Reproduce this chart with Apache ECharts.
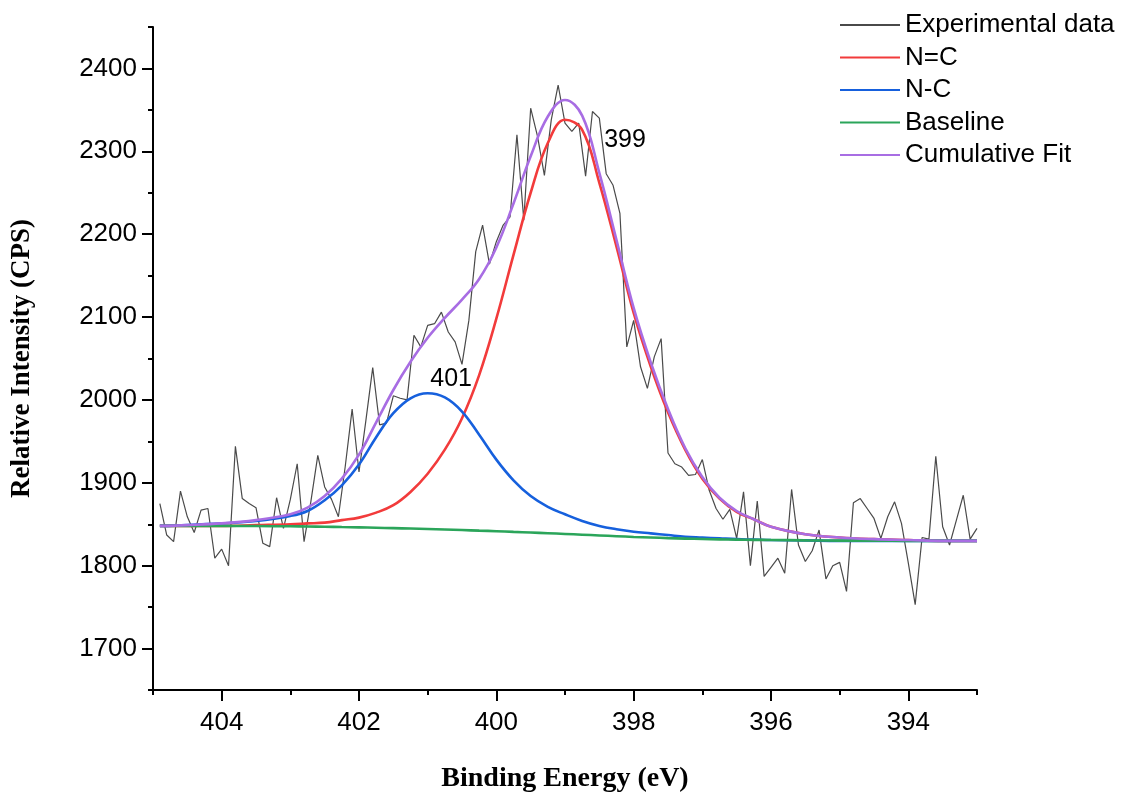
<!DOCTYPE html>
<html>
<head>
<meta charset="utf-8">
<script src="https://cdn.jsdelivr.net/npm/echarts@6/dist/echarts.min.js"></script>
<style>
html,body{margin:0;padding:0;background:#fff;}
#chart{width:1121px;height:793px;}
</style>
</head>
<body>
<div id="chart"></div>
<script>
// ---- Data ----
const expEnergy = [404.9,404.8,404.7,404.6,404.5,404.4,404.3,404.2,404.1,404.0,
403.9,403.8,403.7,403.6,403.5,403.4,403.3,403.2,403.1,403.0,
402.9,402.8,402.7,402.6,402.5,402.4,402.3,402.2,402.1,402.0,
401.9,401.8,401.7,401.6,401.5,401.4,401.3,401.2,401.1,401.0,
400.9,400.8,400.7,400.6,400.5,400.4,400.3,400.2,400.1,400.0,
399.9,399.8,399.7,399.6,399.5,399.4,399.3,399.2,399.1,399.0,
398.9,398.8,398.7,398.6,398.5,398.4,398.3,398.2,398.1,398.0,
397.9,397.8,397.7,397.6,397.5,397.4,397.3,397.2,397.1,397.0,
396.9,396.8,396.7,396.6,396.5,396.4,396.3,396.2,396.1,396.0,
395.9,395.8,395.7,395.6,395.5,395.4,395.3,395.2,395.1,395.0,
394.9,394.8,394.7,394.6,394.5,394.4,394.3,394.2,394.1,394.0,
393.9,393.8,393.7,393.6,393.5,393.4,393.3,393.2,393.1,393.0];
const expIntensity = [1875,1837,1829,1890,1859,1840,1867,1869,1809,1820,
1800,1944,1881,1875,1870,1827,1823,1882,1845,1880,
1923,1829,1878,1933,1895,1880,1859,1920,1989,1913,
1975,2039,1970,1972,2005,2002,2000,2078,2064,2090,
2092,2106,2082,2070,2043,2096,2179,2211,2164,2191,
2211,2221,2320,2217,2352,2318,2271,2338,2380,2334,
2324,2334,2270,2348,2340,2273,2259,2225,2064,2096,
2040,2014,2052,2074,1936,1923,1919,1909,1910,1928,
1891,1869,1856,1868,1833,1889,1800,1878,1787,1798,
1809,1791,1892,1825,1805,1818,1843,1784,1800,1804,
1769,1876,1881,1869,1857,1833,1859,1877,1851,1803,
1753,1834,1832,1932,1847,1825,1855,1885,1832,1845];

const fitEnergy = [404.9,404.5,404,403.5,403,402.75,402.5,402.25,402,401.75,401.5,401.25,401,400.75,400.5,400.25,400,399.75,399.5,399.25,399,398.75,398.5,398.25,398,397.75,397.5,397.25,397,396.75,396.5,396.25,396,395.5,395,394.5,394,393.5,393];
const fitNeqC = [1848,1848,1848,1849,1850,1851,1852,1855,1858,1864,1873,1889,1911,1940,1978,2030,2098,2175,2250,2310,2338,2326,2262,2185,2105,2040,1985,1940,1905,1881,1865,1856,1847,1838,1834,1832,1831,1830,1830];
const fitNC = [1848,1849,1851,1854,1860,1866,1879,1897,1922,1955,1984,2002,2008,2003,1986,1958,1928,1903,1884,1871,1862,1854,1848,1844,1841,1839,1837,1835,1834,1833,1832,1831.5,1831,1830.5,1830,1830,1830,1830,1830];
const fitBaseline = [1848,1848,1848,1847.8,1847.5,1847.3,1847,1846.6,1846.2,1845.8,1845.3,1844.8,1844.2,1843.6,1843,1842.3,1841.6,1840.8,1840,1839.2,1838.3,1837.4,1836.5,1835.6,1834.7,1834,1833.3,1832.7,1832.2,1831.8,1831.5,1831.2,1831,1830.6,1830.3,1830.1,1830,1830,1830];
const fitCumulative = [1848,1849,1851,1855,1862,1870,1884,1905,1934,1973,2012,2046,2075,2099,2121,2146,2184,2237,2294,2342,2362,2343,2274,2193,2111,2045,1989,1942,1907,1882,1866,1856,1847,1838,1834,1832,1831,1830,1830];

const seriesNames = ['Experimental data','N=C','N-C','Baseline','Cumulative Fit'];
const xMajorTicks = [394,396,398,400,402,404];
const xMinorTicks = [393,395,397,399,401,403,405];
const yMajorTicks = [1700,1800,1900,2000,2100,2200,2300,2400];
const yMinorTicks = [1650,1750,1850,1950,2050,2150,2250,2350,2450];
const peakLabels = [{text:'399', energy:399.0, value:2338}, {text:'401', energy:400.95, value:2008}];

function pairs(xs, ys){ return xs.map((x,i)=>[x, ys[i]]); }

const chart = echarts.init(document.getElementById('chart'), null, {renderer:'canvas'});
const sansFont = 'Liberation Sans, Arial, sans-serif';
const serifFont = 'Liberation Serif, Times New Roman, serif';

const fitLine = (name, ys, color, extra) => Object.assign({
  name, type:'line', data: pairs(fitEnergy, ys), symbol:'none', smooth:0.4,
  lineStyle:{color, width:2.6}, itemStyle:{color}, animation:false, z:3
}, extra || {});

chart.setOption({
  animation:false,
  backgroundColor:'#fff',
  grid:{left:153, right:144, top:27, bottom:103, containLabel:false, outerBoundsMode:'none'},
  legend:{
    orient:'vertical', left:835, top:6, itemWidth:60, itemHeight:14, itemGap:4.5,
    data: seriesNames,
    textStyle:{fontFamily:sansFont, fontSize:26, color:'#000', lineHeight:28, padding:[0,0,0,0]},
    icon:'path://M0,0 L60,0 L60,2 L0,2 Z'
  },
  xAxis:[{
    type:'value', min:393, max:405, inverse:true,
    name:'Binding Energy (eV)', nameLocation:'middle', nameGap:75,
    nameTextStyle:{fontFamily:serifFont, fontWeight:'bold', fontSize:28, color:'#000'},
    axisLine:{show:true, onZero:false, lineStyle:{color:'#000', width:2}},
    axisTick:{show:true, inside:false, length:11, customValues:xMajorTicks, lineStyle:{color:'#000', width:2}},
    axisLabel:{show:true, customValues:xMajorTicks, margin:20, fontFamily:sansFont, fontSize:26, color:'#000',
      formatter:(v)=>String(v)},
    splitLine:{show:false}
  },{
    type:'value', min:393, max:405, inverse:true, position:'bottom',
    axisLine:{show:false, onZero:false},
    axisTick:{show:true, length:5, customValues:xMinorTicks, lineStyle:{color:'#000', width:2}},
    axisLabel:{show:false}, splitLine:{show:false}
  }],
  yAxis:[{
    type:'value', min:1650, max:2450,
    name:'Relative Intensity (CPS)', nameLocation:'middle', nameGap:117, nameRotate:90,
    nameTextStyle:{fontFamily:serifFont, fontWeight:'bold', fontSize:27, color:'#000'},
    axisLine:{show:true, onZero:false, lineStyle:{color:'#000', width:2}},
    axisTick:{show:true, length:11, customValues:yMajorTicks, lineStyle:{color:'#000', width:2}},
    axisLabel:{show:true, customValues:yMajorTicks, margin:16, fontFamily:sansFont, fontSize:26, color:'#000',
      formatter:(v)=>String(v)},
    splitLine:{show:false}
  },{
    type:'value', min:1650, max:2450, position:'left',
    axisLine:{show:false, onZero:false},
    axisTick:{show:true, length:5, customValues:yMinorTicks, lineStyle:{color:'#000', width:2}},
    axisLabel:{show:false}, splitLine:{show:false}
  }],
  series:[
    {name:seriesNames[0], type:'line', data:pairs(expEnergy, expIntensity), symbol:'none',
     lineStyle:{color:'#4a4a4a', width:1.2}, itemStyle:{color:'#4a4a4a'}, z:2, animation:false},
    fitLine(seriesNames[1], fitNeqC, '#F23B3B', {
      markPoint:{symbol:'circle', symbolSize:0, silent:true,
        data:[{coord:[peakLabels[0].energy, peakLabels[0].value], value:peakLabels[0].text}],
        label:{show:true, formatter:peakLabels[0].text, fontFamily:sansFont, fontSize:25, color:'#000', offset:[60,20]}}
    }),
    fitLine(seriesNames[2], fitNC, '#1660DD', {
      markPoint:{symbol:'circle', symbolSize:0, silent:true,
        data:[{coord:[peakLabels[1].energy, peakLabels[1].value], value:peakLabels[1].text}],
        label:{show:true, formatter:peakLabels[1].text, fontFamily:sansFont, fontSize:25, color:'#000', offset:[20,-14]}}
    }),
    fitLine(seriesNames[3], fitBaseline, '#2BA55A'),
    fitLine(seriesNames[4], fitCumulative, '#A86DE3', {z:4})
  ]
});
</script>
</body>
</html>
